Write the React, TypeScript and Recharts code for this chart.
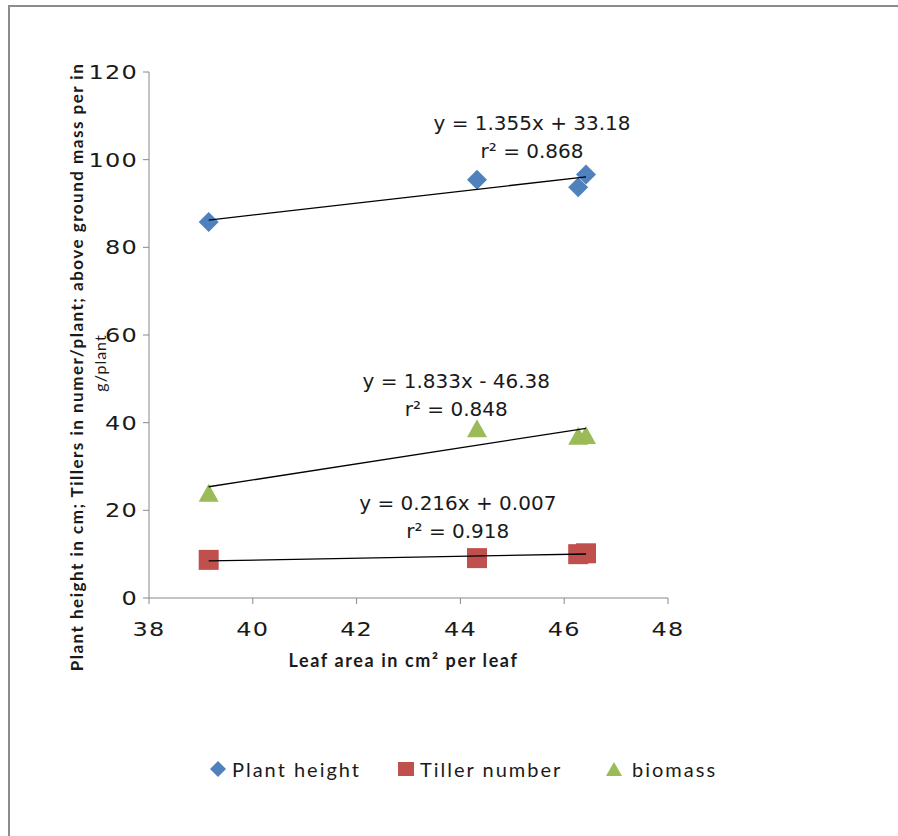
import React from 'react';
import { ScatterChart, Scatter, XAxis, YAxis, ReferenceDot } from 'recharts';

// leaf area (cm² per leaf) shared by all three series
const leafArea = [39.15, 44.32, 46.27, 46.42];
const plantHeight = [85.8, 95.4, 93.7, 96.6];
const tillerNumber = [8.7, 9.1, 10.0, 10.2];
const biomass = [24.0, 38.7, 37.0, 37.2];

const xTicks = [38, 40, 42, 44, 46, 48];
const yTicks = [0, 20, 40, 60, 80, 100, 120];

// linear fits: [slope, intercept]
const heightFit = [1.355, 33.18];
const tillerFit = [0.216, 0.007];
const biomassFit = [1.833, -46.38];

const heightEq = ['y = 1.355x + 33.18', 'r² = 0.868'];
const tillerEq = ['y = 0.216x + 0.007', 'r² = 0.918'];
const biomassEq = ['y = 1.833x - 46.38', 'r² = 0.848'];

const seriesNames = ['Plant height', 'Tiller number', 'biomass'];

const BLUE = '#4F81BD';
const RED = '#C0504D';
const GREEN = '#9BBB59';
const AXIS = '#888888';
const TEXT = '#1a1a1a';
const NUM_FONT = 'DejaVu Sans, sans-serif';
const TITLE_FONT = 'Lato, sans-serif';

const toPoints = (ys: number[]) => leafArea.map((x, i) => ({ x, y: ys[i] }));

const fitLine = (fit: number[]) => {
  const lo = Math.min(...leafArea);
  const hi = Math.max(...leafArea);
  return [lo, hi].map((x) => ({ x, y: fit[0] * x + fit[1] }));
};

const Diamond = (p: any) => {
  const { cx, cy } = p;
  const s = 10;
  return <path d={`M${cx},${cy - s}L${cx + s},${cy}L${cx},${cy + s}L${cx - s},${cy}Z`} fill={BLUE} />;
};

const Square = (p: any) => {
  const { cx, cy } = p;
  return <rect x={cx - 10} y={cy - 10} width={20} height={20} fill={RED} />;
};

const Triangle = (p: any) => {
  const { cx, cy } = p;
  return <path d={`M${cx},${cy - 9}L${cx + 10},${cy + 9}L${cx - 10},${cy + 9}Z`} fill={GREEN} />;
};

const NoMark = () => <g />;

// tick numbers drawn a little wide
const WideTick = (anchor: 'middle' | 'end', dy: string) => (p: any) => (
  <g transform={`translate(${p.x},${p.y}) scale(1.2,1)`}>
    <text x={0} y={0} dy={dy} textAnchor={anchor} fontFamily={NUM_FONT} fontSize={20} letterSpacing={1} fill={TEXT}>
      {p.payload.value}
    </text>
  </g>
);

const equationShape = (lines: string[]) => (p: any) => (
  <g>
    <text x={p.cx} y={p.cy} textAnchor="middle" fontFamily={NUM_FONT} fontSize={20} fill={TEXT}>
      {lines[0]}
    </text>
    <text x={p.cx} y={p.cy + 28} textAnchor="middle" fontFamily={NUM_FONT} fontSize={20} fill={TEXT}>
      {lines[1]}
    </text>
  </g>
);

const YTitle = (p: any) => {
  const vb = p.viewBox;
  const cy = vb.y + vb.height / 2 + 32;
  const x1 = vb.x - 13;
  const x2 = vb.x + 10;
  return (
    <g>
      <text
        x={x1}
        y={cy}
        transform={`rotate(-90 ${x1} ${cy})`}
        textAnchor="middle"
        dominantBaseline="central"
        fontFamily={TITLE_FONT}
        fontWeight="bold"
        fontSize={17}
        letterSpacing={1.5}
        fill={TEXT}
      >
        Plant height in cm; Tillers in numer/plant; above ground mass per in
      </text>
      <text
        x={x2}
        y={cy - 4}
        transform={`rotate(-90 ${x2} ${cy - 4})`}
        textAnchor="middle"
        dominantBaseline="central"
        fontFamily={TITLE_FONT}
        fontSize={16}
        letterSpacing={1}
        fill={TEXT}
      >
        g/plant
      </text>
    </g>
  );
};

const XTitle = (p: any) => {
  const vb = p.viewBox;
  return (
    <text
      x={vb.x + vb.width / 2 - 5}
      y={vb.y + 69}
      textAnchor="middle"
      fontFamily={TITLE_FONT}
      fontWeight="bold"
      fontSize={18}
      letterSpacing={1.6}
      fill={TEXT}
    >
      Leaf area in cm² per leaf
    </text>
  );
};

const legendIcon = (i: number) => {
  if (i === 0) return <path d="M8,0L16,8L8,16L0,8Z" fill={BLUE} />;
  if (i === 1) return <rect x={0} y={1} width={16} height={14} fill={RED} />;
  return <path d="M8,1L16,15L0,15Z" fill={GREEN} />;
};

const legendLeft = [200, 388, 596];

export default function App() {
  return (
    <div
      style={{
        position: 'absolute',
        left: 8,
        top: 5,
        width: 890,
        height: 840,
        borderTop: '2px solid #8c8c8c',
        borderLeft: '2px solid #8c8c8c',
        background: '#fff',
        overflow: 'hidden',
      }}
    >
      <ScatterChart width={888} height={829} margin={{ top: 65, right: 230, bottom: 208, left: 79 }}>
        <XAxis
          type="number"
          dataKey="x"
          domain={[38, 48]}
          ticks={xTicks}
          height={30}
          stroke={AXIS}
          tickSize={6}
          tickMargin={18}
          tick={WideTick('middle', '0.71em')}
          label={XTitle}
        />
        <YAxis
          type="number"
          dataKey="y"
          domain={[0, 120]}
          ticks={yTicks}
          width={60}
          stroke={AXIS}
          tickSize={6}
          tickMargin={5}
          tick={WideTick('end', '0.355em')}
          label={YTitle}
        />
        <Scatter name={seriesNames[0]} data={toPoints(plantHeight)} shape={Diamond} isAnimationActive={false} />
        <Scatter name={seriesNames[1]} data={toPoints(tillerNumber)} shape={Square} isAnimationActive={false} />
        <Scatter name={seriesNames[2]} data={toPoints(biomass)} shape={Triangle} isAnimationActive={false} />
        <Scatter data={fitLine(heightFit)} line={{ stroke: '#000', strokeWidth: 1.3 }} shape={NoMark} legendType="none" isAnimationActive={false} />
        <Scatter data={fitLine(tillerFit)} line={{ stroke: '#000', strokeWidth: 1.3 }} shape={NoMark} legendType="none" isAnimationActive={false} />
        <Scatter data={fitLine(biomassFit)} line={{ stroke: '#000', strokeWidth: 1.3 }} shape={NoMark} legendType="none" isAnimationActive={false} />
        <ReferenceDot x={45.38} y={106.8} r={1} shape={equationShape(heightEq)} />
        <ReferenceDot x={43.92} y={47.9} r={1} shape={equationShape(biomassEq)} />
        <ReferenceDot x={43.95} y={20.1} r={1} shape={equationShape(tillerEq)} />
      </ScatterChart>
      {seriesNames.map((name, i) => (
        <div
          key={name}
          style={{
            position: 'absolute',
            left: legendLeft[i],
            top: 750,
            display: 'flex',
            alignItems: 'center',
            fontFamily: TITLE_FONT,
            fontSize: 20,
            letterSpacing: 2,
            color: TEXT,
          }}
        >
          <svg width={16} height={16} style={{ marginRight: i === 2 ? 10 : 6 }}>
            {legendIcon(i)}
          </svg>
          {name}
        </div>
      ))}
    </div>
  );
}
